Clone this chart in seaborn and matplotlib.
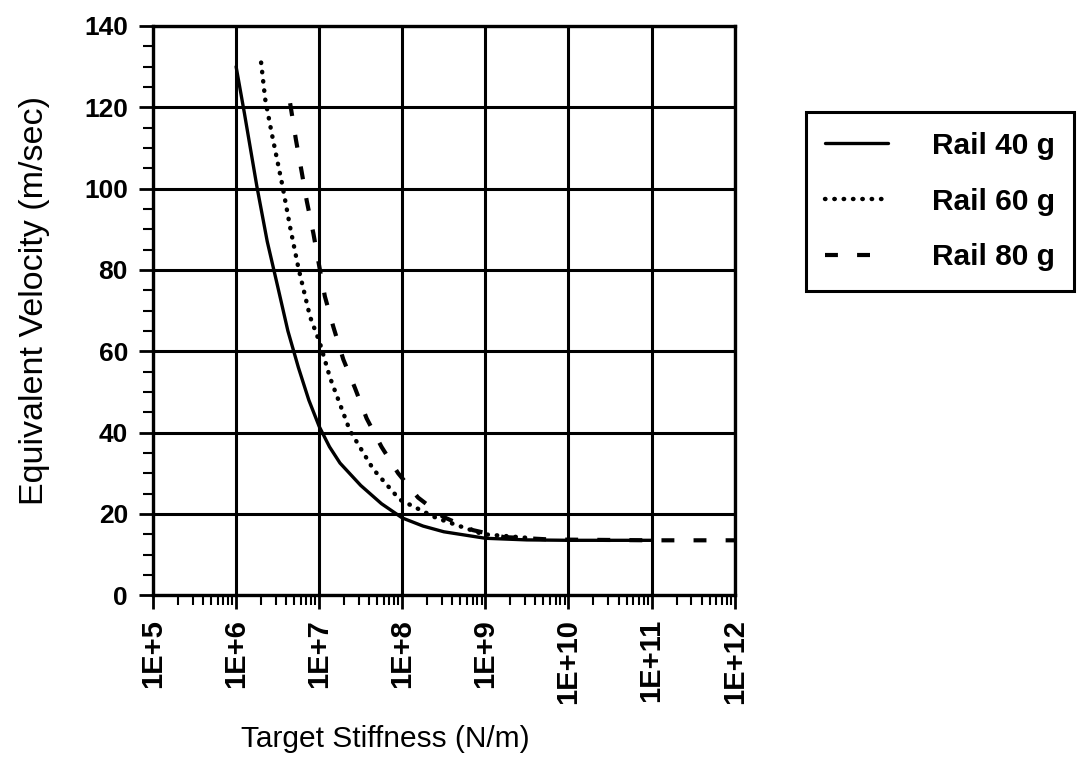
import numpy as np
import pandas as pd
import matplotlib
matplotlib.use("Agg")
import matplotlib.pyplot as plt
from matplotlib.ticker import LogLocator, MultipleLocator, FixedLocator, NullFormatter
import seaborn as sns

# values
stiff_40 = [1e6, 1.26e6, 1.78e6, 2.37e6, 3.16e6, 4.2e6, 5.62e6, 7.5e6, 1e7, 1.33e7, 1.78e7,
            3.16e7, 5.62e7, 1e8, 1.78e8, 3.16e8, 1e9, 3.16e9, 1e10, 1e11]
vel_40 = [130, 118.5, 100.5, 87, 76, 65, 56, 48, 41.5, 36.5, 32.5,
          27, 22.5, 19, 17, 15.6, 14.0, 13.6, 13.5, 13.5]

stiff_60 = [2.0e6, 2.24e6, 2.69e6, 3.63e6, 4.47e6, 5.62e6, 7.76e6, 1.02e7, 1.35e7,
            2.34e7, 4.47e7, 9.33e7, 2.57e8, 9.33e8, 3.72e9]
vel_60 = [131, 122, 113.5, 100.5, 90.5, 80.5, 68.5, 62, 53.5,
          40.5, 31, 23.5, 19, 15, 14]

stiff_80 = [4.47e6, 5.25e6, 6.17e6, 7.08e6, 8.51e6, 1e7, 1.17e7, 1.48e7, 1.95e7, 2.69e7,
            3.72e7, 5.62e7, 8.91e7, 1.55e8, 3.09e8, 7.08e8, 1.66e9, 6.03e9, 1e11, 1e12]
vel_80 = [121, 112, 104, 97, 89, 81, 73.5, 66, 58, 51,
          43.5, 36.5, 30, 24, 19.3, 16, 14.3, 13.7, 13.5, 13.5]

series_names = ["Rail 40 g", "Rail 60 g", "Rail 80 g"]
x_ticks = [1e5, 1e6, 1e7, 1e8, 1e9, 1e10, 1e11, 1e12]
x_tick_labels = ["1E+5", "1E+6", "1E+7", "1E+8", "1E+9", "1E+10", "1E+11", "1E+12"]
y_ticks = [0, 20, 40, 60, 80, 100, 120, 140]

sns.set_style("ticks")
plt.rcParams["font.family"] = ["Liberation Sans", "DejaVu Sans"]
plt.rcParams["text.color"] = "black"
plt.rcParams["axes.labelcolor"] = "black"
plt.rcParams["xtick.color"] = "black"
plt.rcParams["ytick.color"] = "black"

fig = plt.figure(figsize=(10.82, 7.75), dpi=100)
ax = fig.add_axes([0.1414, 0.232, 0.5376, 0.7345])

styles = [
    dict(linestyle="-", linewidth=2.4),
    dict(linestyle=(0, (0.1, 2.0)), linewidth=3.2, dash_capstyle="round"),
    dict(linestyle=(0, (3.1, 4.6)), linewidth=3.0),
]
all_x = [stiff_40, stiff_60, stiff_80]
all_y = [vel_40, vel_60, vel_80]
for name, xs, ys, st in zip(series_names, all_x, all_y, styles):
    df = pd.DataFrame({"stiffness": xs, "velocity": ys})
    sns.lineplot(data=df, x="stiffness", y="velocity", ax=ax, color="black",
                 label=name, sort=False, **st)

ax.set_xscale("log")
ax.set_xlim(1e5, 1e12)
ax.set_ylim(0, 140)
ax.xaxis.set_major_locator(FixedLocator(x_ticks))
ax.set_xticklabels(x_tick_labels, rotation=90, fontsize=21, fontweight="bold")
ax.xaxis.set_minor_locator(LogLocator(base=10, subs=np.arange(2, 10), numticks=100))
ax.xaxis.set_minor_formatter(NullFormatter())
ax.set_yticks(y_ticks)
ax.set_yticklabels([str(v) for v in y_ticks], fontsize=19, fontweight="bold")
ax.yaxis.set_minor_locator(MultipleLocator(5))

ax.tick_params(which="major", direction="inout", length=20, width=2)
ax.tick_params(axis="x", which="major", pad=7)
ax.tick_params(axis="y", which="major", pad=8)
ax.tick_params(which="minor", direction="out", length=7, width=1.5)
ax.grid(True, which="major", color="black", linewidth=2.2)
ax.grid(False, which="minor")
for sp in ax.spines.values():
    sp.set_color("black")
    sp.set_linewidth(2.4)

ax.set_xlabel("Target Stiffness (N/m)", fontsize=21.5)
ax.set_ylabel("Equivalent Velocity (m/sec)", fontsize=24.5)
ax.xaxis.set_label_coords(0.399, -0.228)
ax.yaxis.set_label_coords(-0.177, 0.518)

leg = ax.legend(loc="upper left", bbox_to_anchor=(0.745, 0.855), bbox_transform=fig.transFigure,
                borderaxespad=0, fontsize=21.5, frameon=True, fancybox=False, framealpha=1,
                handlelength=2.1, handletextpad=1.45, labelspacing=0.93, borderpad=0.65)
leg.get_frame().set_edgecolor("black")
leg.get_frame().set_linewidth(2.2)
for t in leg.get_texts():
    t.set_fontweight("bold")

fig.savefig("out.png", dpi=100)
